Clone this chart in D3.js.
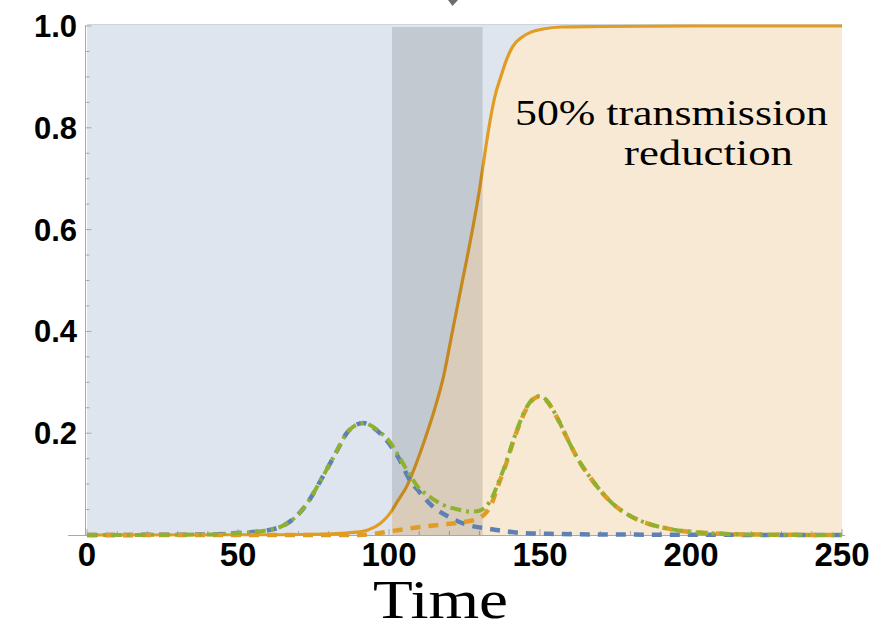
<!DOCTYPE html>
<html>
<head>
<meta charset="utf-8">
<script src="https://cdn.jsdelivr.net/npm/d3@7"></script>
<style>
  html, body { margin: 0; padding: 0; background: #fff; }
  svg { display: block; }
</style>
</head>
<body>
<svg id="chart" width="873" height="632"></svg>
<script>
// ---- data -------------------------------------------------------------
// Solid curve: cumulative fraction (time, value)
const cumulativeT = [0, 60, 80, 88, 93, 97, 100, 103, 106, 109, 112, 115, 118, 121, 124, 127, 130, 131, 132, 133.5, 135, 137, 139, 141, 144, 147, 151, 157, 170, 200, 250];
const cumulativeV = [0, 0.0005, 0.002, 0.005, 0.01, 0.022, 0.04, 0.068, 0.097, 0.14, 0.19, 0.245, 0.31, 0.4, 0.49, 0.58, 0.68, 0.72, 0.76, 0.815, 0.86, 0.9, 0.935, 0.96, 0.978, 0.988, 0.994, 0.998, 0.999, 1.0, 1.0];

// Dashed blue: first wave
const waveAT = [0, 40, 50, 57, 64, 69, 73, 76.5, 79.5, 83, 86, 89, 91.5, 94, 97, 100, 103.5, 106.5, 110, 114.5, 120, 126, 132, 138, 144, 155, 170, 250];
const waveAV = [0, 0.001, 0.004, 0.007, 0.016, 0.035, 0.063, 0.098, 0.13, 0.168, 0.2, 0.216, 0.22, 0.214, 0.2, 0.18, 0.148, 0.112, 0.085, 0.056, 0.035, 0.02, 0.013, 0.008, 0.004, 0.002, 0.001, 0];

// Dashed orange: second wave
const waveBT = [0, 90, 96, 100, 107, 117, 124, 128, 130, 132, 134, 136, 138.5, 141.5, 145.5, 148, 150, 152, 155.5, 159, 162, 167.5, 174, 180, 185.5, 192, 197, 205, 220, 250];
const waveBV = [0, 0, 0.003, 0.007, 0.013, 0.02, 0.025, 0.029, 0.034, 0.043, 0.062, 0.095, 0.135, 0.19, 0.248, 0.268, 0.272, 0.265, 0.232, 0.19, 0.155, 0.106, 0.062, 0.037, 0.023, 0.013, 0.008, 0.004, 0.001, 0];

// Dash-dot green: total
const totalT = [0, 40, 50, 57, 64, 69, 73, 76.5, 79.5, 83, 86, 89, 91.5, 94, 97, 100, 103.5, 106.5, 109.5, 113.5, 118, 123, 127, 129.5, 132, 134, 136, 138.5, 141.5, 145.5, 148, 150, 152, 155.5, 159, 162, 167.5, 174, 180, 185.5, 192, 197, 205, 220, 250];
const totalV = [0, 0.001, 0.004, 0.007, 0.016, 0.035, 0.063, 0.098, 0.13, 0.168, 0.2, 0.216, 0.22, 0.215, 0.202, 0.185, 0.152, 0.122, 0.095, 0.075, 0.059, 0.05, 0.046, 0.047, 0.055, 0.072, 0.1, 0.138, 0.192, 0.25, 0.269, 0.273, 0.266, 0.233, 0.19, 0.155, 0.106, 0.062, 0.037, 0.023, 0.013, 0.008, 0.004, 0.001, 0];

// Intervention window and shaded region
const windowStart = 101, windowEnd = 131;
const reductionStart = 101;

const xTicks = [0, 50, 100, 150, 200, 250];
const yTicks = [0.2, 0.4, 0.6, 0.8, 1.0];
const annotation = ["50% transmission", "reduction"];
const xTitle = "Time";

// ---- layout -----------------------------------------------------------
const svg = d3.select("#chart");
const x = d3.scaleLinear().domain([0, 250]).range([87, 842]);
const y = d3.scaleLinear().domain([0, 1]).range([535, 26]);

const colors = { blue: "#5e81b5", orange: "#e19c24", green: "#8fb131" };

const zip = (ts, vs) => ts.map((t, i) => ({ t, v: vs[i] }));
const cum = zip(cumulativeT, cumulativeV);

// background panel
svg.append("rect")
  .attr("x", x(0)).attr("y", y(1) - 1)
  .attr("width", x(250) - x(0)).attr("height", y(0) - y(1) + 1)
  .attr("fill", "#dfe5ee");
svg.append("line")
  .attr("x1", x(0)).attr("x2", x(250))
  .attr("y1", y(1) - 1.5).attr("y2", y(1) - 1.5)
  .attr("stroke", "#cdd5e0").attr("stroke-width", 1);

// area under the cumulative curve once the reduction applies
svg.append("clipPath").attr("id", "clipReduction")
  .append("rect")
  .attr("x", x(reductionStart)).attr("y", 0)
  .attr("width", x(250) - x(reductionStart)).attr("height", y(0));
const areaGen = d3.area()
  .x(d => x(d.t)).y0(y(0)).y1(d => y(d.v))
  .curve(d3.curveMonotoneX);
svg.append("path")
  .datum(cum)
  .attr("d", areaGen)
  .attr("fill", "#f8e9d4")
  .attr("clip-path", "url(#clipReduction)");

// axes
const axisColor = "#a9a9a9";
const gAxes = svg.append("g");
gAxes.append("line")
  .attr("x1", 68).attr("x2", 845)
  .attr("y1", y(0) + 0.5).attr("y2", y(0) + 0.5)
  .attr("stroke", axisColor).attr("stroke-width", 1);
gAxes.append("line")
  .attr("x1", x(0) - 1.5).attr("x2", x(0) - 1.5)
  .attr("y1", y(1) - 1).attr("y2", y(0))
  .attr("stroke", axisColor).attr("stroke-width", 1);

// minor/major ticks
d3.range(0, 251, 10).forEach(t => {
  const major = t % 50 === 0;
  gAxes.append("line")
    .attr("x1", x(t)).attr("x2", x(t))
    .attr("y1", y(0)).attr("y2", y(0) - (major ? 6 : 4))
    .attr("stroke", axisColor).attr("stroke-width", 1);
});
d3.range(0, 1.0001, 0.05).forEach(v => {
  const major = Math.abs(v * 5 - Math.round(v * 5)) < 1e-6;
  gAxes.append("line")
    .attr("x1", x(0) - 1.5).attr("x2", x(0) - 1.5 + (major ? 6 : 4))
    .attr("y1", y(v)).attr("y2", y(v))
    .attr("stroke", axisColor).attr("stroke-width", 1);
});

// curves
const lineGen = d3.line().x(d => x(d.t)).y(d => y(d.v)).curve(d3.curveMonotoneX);

svg.append("path").datum(cum).attr("d", lineGen)
  .attr("fill", "none").attr("stroke", colors.orange).attr("stroke-width", 3.2);

// intervention window band
svg.append("rect")
  .attr("x", x(windowStart)).attr("y", y(1) + 1)
  .attr("width", x(windowEnd) - x(windowStart)).attr("height", y(0) - y(1) - 1)
  .attr("fill", "#000").attr("fill-opacity", 0.12);

svg.append("path").datum(zip(waveAT, waveAV)).attr("d", lineGen)
  .attr("fill", "none").attr("stroke", colors.blue).attr("stroke-width", 4.5)
  .attr("stroke-dasharray", "10,8");
svg.append("path").datum(zip(waveBT, waveBV)).attr("d", lineGen)
  .attr("fill", "none").attr("stroke", colors.orange).attr("stroke-width", 4.5)
  .attr("stroke-dasharray", "10,8");
svg.append("path").datum(zip(totalT, totalV)).attr("d", lineGen)
  .attr("fill", "none").attr("stroke", colors.green).attr("stroke-width", 4)
  .attr("stroke-dasharray", "11,5,3,5");

// tick labels
const labelFont = "'Liberation Sans', Arial, sans-serif";
svg.append("g").selectAll("text").data(xTicks).join("text")
  .attr("x", d => x(d)).attr("y", 566)
  .attr("text-anchor", "middle")
  .attr("font-family", labelFont).attr("font-weight", "bold")
  .attr("font-size", 33)
  .text(d => d);
svg.append("g").selectAll("text").data(yTicks).join("text")
  .attr("x", 77).attr("y", d => y(d) + 11)
  .attr("text-anchor", "end")
  .attr("font-family", labelFont).attr("font-weight", "bold")
  .attr("font-size", 31)
  .text(d => d.toFixed(1));

// axis title
svg.append("text")
  .attr("x", 373).attr("y", 618)
  .attr("font-family", "'Liberation Serif', 'DejaVu Serif', serif")
  .attr("font-size", 54)
  .attr("textLength", 135).attr("lengthAdjust", "spacingAndGlyphs")
  .text(xTitle);

// annotation, two lines
const noteFont = "'Liberation Serif', 'DejaVu Serif', serif";
svg.append("text")
  .attr("x", 515).attr("y", 125)
  .attr("font-family", noteFont).attr("font-size", 36)
  .attr("textLength", 313).attr("lengthAdjust", "spacingAndGlyphs")
  .text(annotation[0]);
svg.append("text")
  .attr("x", 624).attr("y", 165)
  .attr("font-family", noteFont).attr("font-size", 36)
  .attr("textLength", 169).attr("lengthAdjust", "spacingAndGlyphs")
  .text(annotation[1]);

// pointer tip entering from above
svg.append("path")
  .attr("d", "M448,0 L458,0 L452.5,6 Z")
  .attr("fill", "#6e6e6e");
</script>
</body>
</html>
